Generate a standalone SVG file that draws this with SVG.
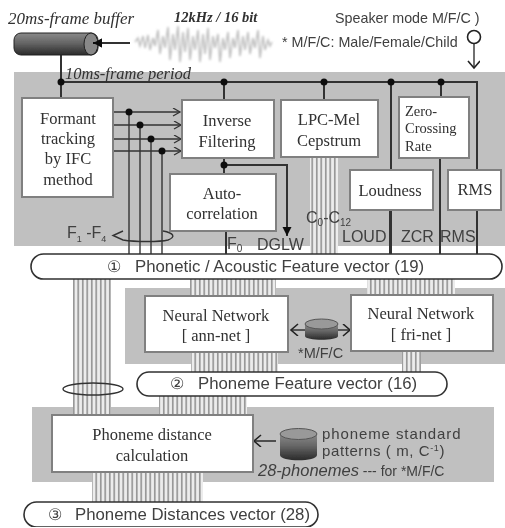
<svg xmlns="http://www.w3.org/2000/svg" width="505" height="528" viewBox="0 0 505 528">
<style>
.panel{fill:#c0c0c0}
.box{fill:#fff;stroke:#808080;stroke-width:2}
.pill{fill:#fff;stroke:#303030;stroke-width:1.6}
.ser{font-family:"Liberation Serif",serif;font-size:16.5px;fill:#303030;text-anchor:middle}
.san{font-family:"Liberation Sans",sans-serif;font-size:16px;fill:#404040}
.vec{font-size:16.8px}
.ita{font-family:"Liberation Serif",serif;font-style:italic;font-size:16.5px;fill:#303030}
.ln{fill:none;stroke:#333;stroke-width:1.4}
.th{fill:none;stroke:#333;stroke-width:2}
.dot{fill:#111}
.str{fill:url(#stripes)}
</style>
<defs>
<pattern id="stripes" width="4.5" height="10" patternUnits="userSpaceOnUse">
<rect width="4.5" height="10" fill="#ececec"/><rect x="1" width="1.5" height="10" fill="#8c8c8c"/>
</pattern>
<linearGradient id="cyl" x1="0" y1="0" x2="0" y2="1"><stop offset="0" stop-color="#8a8a8a"/><stop offset="0.45" stop-color="#666"/><stop offset="1" stop-color="#2a2a2a"/></linearGradient>
<marker id="open" markerWidth="10" markerHeight="10" refX="8" refY="4" orient="auto" markerUnits="userSpaceOnUse"><path d="M1 0L8 4L1 8" fill="none" stroke="#333" stroke-width="1.3"/></marker>
<marker id="ah" markerWidth="11" markerHeight="10" refX="9" refY="4.500" orient="auto" markerUnits="userSpaceOnUse"><path d="M0 0L9 4.500L0 9Z" fill="#111"/></marker>
<marker id="openL" markerWidth="14" markerHeight="14" refX="11" refY="6" orient="auto-start-reverse" markerUnits="userSpaceOnUse"><path d="M4 0L11 6L4 12" fill="none" stroke="#222" stroke-width="1.600"/></marker>
<filter id="soft" x="0" y="0" width="100%" height="100%"><feGaussianBlur stdDeviation="0.45"/></filter>
<filter id="wave" x="-5%" y="-5%" width="110%" height="110%"><feGaussianBlur stdDeviation="0.9"/></filter>
</defs>
<rect width="505" height="528" fill="#fff"/>
<g filter="url(#soft)">
<g id="panels">
<rect class="panel" x="14" y="72" width="491" height="174"/>
<rect class="panel" x="125" y="288" width="380" height="76"/>
<rect class="panel" x="32" y="407" width="462" height="75"/>
</g>
<g id="stripes-group">
<rect class="str" x="310" y="157" width="28" height="97"/>
<rect class="str" x="73" y="279" width="38" height="136"/>
<rect class="str" x="190" y="279" width="86" height="17"/>
<rect class="str" x="367" y="279" width="88" height="16"/>
<rect class="str" x="191" y="352" width="87" height="20"/>
<rect class="str" x="402" y="351" width="19" height="21"/>
<rect class="str" x="159" y="396" width="88" height="19"/>
<rect class="str" x="92" y="472" width="111" height="30"/>
</g>
<g id="connectors">
<path class="th" d="M130 43H93" marker-end="url(#ah)"/>
<path class="th" d="M61 55V98"/>
<path class="th" d="M61 82H477V254"/>
<path class="th" d="M224 82V100M324 82V100M391 82V254M441 82V97"/>
<path class="ln" d="M112 112H180" marker-end="url(#open)"/>
<path class="ln" d="M112 125H181" marker-end="url(#open)"/>
<path class="ln" d="M112 139H181" marker-end="url(#open)"/>
<path class="ln" d="M112 151H181" marker-end="url(#open)"/>
<path class="ln" d="M129 112V254M140 125V254M151 139V254M162 151V254"/>
<path class="th" d="M224 158V174"/>
<path class="th" d="M224 165H287V236" marker-end="url(#ah)"/>
<path class="th" d="M226 231V254"/>
<path class="th" d="M390 210V254M440 158V254M477 210V254"/>
<path class="ln" d="M123 231L113 235.500L123 240C135 242 160 242 168 240C176 237 174 233 163 231"/>
<ellipse class="ln" cx="93" cy="389" rx="30" ry="6"/>
<path class="th" d="M291 330H350" marker-start="url(#openL)" marker-end="url(#openL)" style="stroke-width:1.6"/>
<path class="th" d="M276 441H254" style="stroke-width:1.6" marker-end="url(#openL)"/>
<path class="ln" d="M474 43V68" marker-end="url(#openL)"/>
<circle cx="474" cy="37" r="6.500" fill="#fff" stroke="#222" stroke-width="1.600"/>
<circle class="dot" cx="61" cy="82" r="3.500"/><circle class="dot" cx="224" cy="82" r="3.500"/><circle class="dot" cx="324" cy="82" r="3.500"/><circle class="dot" cx="391" cy="82" r="3.500"/><circle class="dot" cx="441" cy="82" r="3.500"/>
<circle class="dot" cx="129" cy="112" r="3.500"/><circle class="dot" cx="140" cy="125" r="3.500"/><circle class="dot" cx="151" cy="139" r="3.500"/><circle class="dot" cx="162" cy="151" r="3.500"/><circle class="dot" cx="224" cy="165" r="3.500"/>
</g>
<g id="buffer">
<rect x="14" y="33" width="84" height="22" rx="7" fill="url(#cyl)" stroke="#222"/>
<ellipse cx="91" cy="44" rx="7" ry="11" fill="#888" stroke="#222"/>
<path d="M100 43H93" stroke="#111" stroke-width="2" marker-end="url(#ah)"/>
<text class="ita" x="8" y="24" style="font-size:17px">20ms-frame buffer</text>
<text class="ita" x="65" y="79">10ms-frame period</text>
</g>
<g id="waveform">
<path filter="url(#wave)" fill="none" stroke="#bdbdbd" stroke-width="1.500" d="M135 42L138 38L140 46L143 36L145 48L148 35L150 50L153 38L155 46L158 30L160 54L163 36L165 48L168 27L170 60L173 34L175 50L178 26L180 62L183 32L185 52L188 28L190 60L193 36L195 50L198 30L200 62L203 34L205 54L208 28L210 60L213 36L215 48L218 34L220 62L223 38L225 50L228 32L230 58L233 38L235 48L238 30L240 56L243 36L245 50L248 32L250 54L253 38L255 48L258 30L260 58L263 36L265 50L268 40L270 46L272 42"/>
<text class="ita" x="174" y="22" style="font-size:14.500px;font-weight:bold">12kHz / 16 bit</text>
</g>
<g id="legend">
<text class="san" x="335" y="23" style="font-size:14.300px">Speaker mode M/F/C )</text>
<text class="san" x="282" y="47" style="font-size:14.300px">* M/F/C:  Male/Female/Child</text>
</g>
<g id="formant"><rect class="box" x="22" y="98" width="91" height="99"/>
<text class="ser" x="68" y="124">Formant</text><text class="ser" x="68" y="144">tracking</text><text class="ser" x="68" y="164">by IFC</text><text class="ser" x="68" y="185">method</text></g>
<g id="inverse"><rect class="box" x="182" y="100" width="92" height="58"/>
<text class="ser" x="227" y="126">Inverse</text><text class="ser" x="227" y="147">Filtering</text></g>
<g id="lpc"><rect class="box" x="281" y="100" width="97" height="57"/>
<text class="ser" x="329" y="125">LPC-Mel</text><text class="ser" x="329" y="146">Cepstrum</text></g>
<g id="zcr"><rect class="box" x="399" y="97" width="70" height="61"/>
<text class="ser" x="405" y="116" style="text-anchor:start;font-size:14.500px">Zero-</text><text class="ser" x="405" y="133" style="text-anchor:start;font-size:14.500px">Crossing</text><text class="ser" x="405" y="151" style="text-anchor:start;font-size:14.500px">Rate</text></g>
<g id="auto"><rect class="box" x="170" y="174" width="106" height="57"/>
<text class="ser" x="222" y="199">Auto-</text><text class="ser" x="222" y="219">correlation</text></g>
<g id="loudness"><rect class="box" x="350" y="170" width="83" height="40"/>
<text class="ser" x="390" y="196">Loudness</text></g>
<g id="rms"><rect class="box" x="448" y="170" width="53" height="40"/>
<text class="ser" x="475" y="195">RMS</text></g>
<g id="signal-labels">
<text class="san" x="67" y="238">F<tspan font-size="9" dy="4">1</tspan><tspan dy="-4"> -F</tspan><tspan font-size="9" dy="4">4</tspan></text>
<text class="san" x="227" y="249">F<tspan font-size="10" dy="3">0</tspan></text>
<text class="san" x="257" y="250">DGLW</text>
<text class="san" x="306" y="223">C<tspan font-size="10" dy="3">0</tspan><tspan dy="-3">-C</tspan><tspan font-size="10" dy="3">12</tspan></text>
<text class="san" x="342" y="242">LOUD</text>
<text class="san" x="401" y="242">ZCR</text>
<text class="san" x="440" y="242">RMS</text>
</g>
<g id="vec1"><rect class="pill" x="31" y="254" width="471" height="25" rx="12.500"/>
<text class="san" x="107" y="272">①</text><text class="san vec" x="135" y="272">Phonetic / Acoustic Feature vector (19)</text></g>
<g id="annnet"><rect class="box" x="145" y="296" width="143" height="56"/>
<text class="ser" x="216" y="321">Neural Network</text><text class="ser" x="216" y="341">[ ann-net ]</text></g>
<g id="frinet"><rect class="box" x="351" y="295" width="142" height="56"/>
<text class="ser" x="421" y="319">Neural Network</text><text class="ser" x="421" y="340">[ fri-net ]</text></g>
<g id="db1"><path d="M305 324V336C305 341 338 341 338 336V324Z" fill="url(#cyl)"/><ellipse cx="321.500" cy="324" rx="16.500" ry="5" fill="#999" stroke="#555"/>
<text class="san" x="298" y="358" style="font-size:14.500px">*M/F/C</text></g>
<g id="vec2"><rect class="pill" x="137" y="372" width="310" height="24" rx="12"/>
<text class="san" x="170" y="389">②</text><text class="san vec" x="198" y="389">Phoneme Feature vector (16)</text></g>
<g id="distance"><rect class="box" x="52" y="415" width="201" height="57"/>
<text class="ser" x="152" y="440">Phoneme distance</text><text class="ser" x="152" y="461">calculation</text></g>
<g id="db2"><path d="M280 434V455C280 462 317 462 317 455V434Z" fill="url(#cyl)"/><ellipse cx="298.500" cy="434" rx="18.500" ry="5.500" fill="#999" stroke="#555"/>
<text class="san" x="322" y="439" style="font-size:15px;letter-spacing:0.9px">phoneme standard</text>
<text class="san" x="322" y="456" style="font-size:15px;letter-spacing:0.6px">patterns ( m, C<tspan font-size="9" dy="-5">-1</tspan><tspan dy="5">)</tspan></text>
<text class="san" x="258" y="476" style="font-style:italic;font-size:16.500px">28-phonemes<tspan style="font-style:normal;font-size:14px"> --- for *M/F/C</tspan></text></g>
<g id="vec3"><rect class="pill" x="24" y="502" width="294" height="25" rx="12.500"/>
<text class="san" x="48" y="520">③</text><text class="san vec" x="75" y="520">Phoneme Distances vector (28)</text></g>
</g>
</svg>
